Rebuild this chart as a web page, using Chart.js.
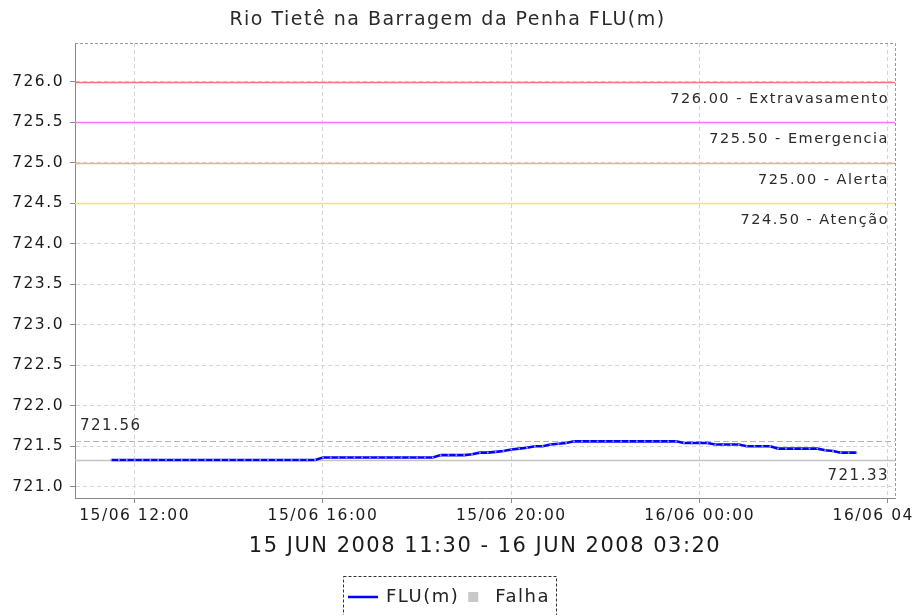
<!DOCTYPE html>
<html>
<head>
<meta charset="utf-8">
<script src="https://cdn.jsdelivr.net/npm/chart.js@4.4.0/dist/chart.umd.min.js"></script>
<style>
    html, body { margin: 0; padding: 0; background: #fff; }
    #wrap { width: 912px; height: 615px; }
</style>
</head>
<body>
<div id="wrap"><canvas id="fluChart"></canvas></div>
<script>
// ____________________________ Data ____________________________\\
// readings every 10 minutes, first one 15/06 11:30 (minutes counted from 15/06 00:00)
const fluStartMinute = 690
const fluStepMinutes = 10
const fluValues = [
    // 11:30 - 15:50
    721.33, 721.33, 721.33, 721.33, 721.33, 721.33, 721.33, 721.33, 721.33,
    721.33, 721.33, 721.33, 721.33, 721.33, 721.33, 721.33, 721.33, 721.33,
    721.33, 721.33, 721.33, 721.33, 721.33, 721.33, 721.33, 721.33, 721.33,
    // 16:00 - 18:20
    721.36, 721.36, 721.36, 721.36, 721.36, 721.36, 721.36, 721.36,
    721.36, 721.36, 721.36, 721.36, 721.36, 721.36, 721.36,
    // 18:30 - 19:00
    721.39, 721.39, 721.39, 721.39,
    // 19:10 - 21:10
    721.40, 721.42, 721.42, 721.43, 721.44, 721.46, 721.47, 721.48,
    721.50, 721.50, 721.52, 721.53, 721.54,
    // 21:20 - 23:30
    721.56, 721.56, 721.56, 721.56, 721.56, 721.56, 721.56,
    721.56, 721.56, 721.56, 721.56, 721.56, 721.56, 721.56,
    // 23:40 - 03:20
    721.54, 721.54, 721.54, 721.54,
    721.52, 721.52, 721.52, 721.52,
    721.50, 721.50, 721.50, 721.50,
    721.47, 721.47, 721.47, 721.47, 721.47, 721.47,
    721.45, 721.44,
    721.42, 721.42, 721.42
]

const xTickMinutes = [720, 960, 1200, 1440, 1680]
const xTickLabels = ["15/06 12:00", "15/06 16:00", "15/06 20:00", "16/06 00:00", "16/06 04:00"]
const yTickValues = [721.0, 721.5, 722.0, 722.5, 723.0, 723.5, 724.0, 724.5, 725.0, 725.5, 726.0]

const thresholdValues = [726.0, 725.5, 725.0, 724.5]
const thresholdNames = ["Extravasamento", "Emergencia", "Alerta", "Atenção"]

const chartTitle = "Rio Tietê na Barragem da Penha FLU(m)"
const periodTitle = "15 JUN 2008 11:30 - 16 JUN 2008 03:20"
// ____________________________ End Data ____________________________\\

const FONT = '"DejaVu Sans", sans-serif'
const thresholdColors = ["#ff7070", "#ff70ff", "#ffb070", "#ffe45c"]

let fluPoints = fluValues.map((value, index) => ({x: fluStartMinute + index * fluStepMinutes, y: value}))
let maxFlu = Math.max(...fluValues)
let minFlu = Math.min(...fluValues)

function horizontalLine(ctx, area, y, color, width, dash){
    ctx.save()
    ctx.strokeStyle = color
    ctx.lineWidth = width
    ctx.setLineDash(dash)
    ctx.beginPath()
    ctx.moveTo(area.left, y)
    ctx.lineTo(area.right, y)
    ctx.stroke()
    ctx.restore()
}

function label(ctx, text, x, y, align, size){
    ctx.save()
    ctx.letterSpacing = "1.5px"
    ctx.font = size + "px " + FONT
    ctx.fillStyle = "#2a2a2a"
    ctx.textAlign = align
    ctx.textBaseline = "middle"
    ctx.fillText(text, x, y)
    ctx.restore()
}

        //_____________ reference lines (thresholds, max & min) _____________\\
const markerPlugin = {
    id: "markers",
    beforeDraw(chart){
        chart.ctx.letterSpacing = "1.5px"   // java-like wide text for ticks & titles
    },
    beforeDatasetsDraw(chart){
        let ctx = chart.ctx
        let area = chart.chartArea
        let yScale = chart.scales.y

        thresholdValues.forEach((value, i) => {
            let y = Math.round(yScale.getPixelForValue(value)) + 0.5
            horizontalLine(ctx, area, y, thresholdColors[i], 1.6, [])
            label(ctx, value.toFixed(2) + " - " + thresholdNames[i], area.right - 6, y + 17, "right", 14.5)
        })

        let yMax = Math.round(yScale.getPixelForValue(maxFlu)) + 0.5
        horizontalLine(ctx, area, yMax, "#b4b4b4", 1, [6, 3])
        label(ctx, maxFlu.toFixed(2), area.left + 5, yMax - 15, "left", 15)

        let yMin = Math.round(yScale.getPixelForValue(minFlu)) + 0.5
        horizontalLine(ctx, area, yMin, "#c4c4c4", 1.5, [])
        label(ctx, minFlu.toFixed(2), area.right - 6, yMin + 16, "right", 15)
    },
    afterDraw(chart){
        let ctx = chart.ctx
        let area = chart.chartArea
        // dashed top / right frame of the plot
        ctx.save()
        ctx.strokeStyle = "#9a9a9a"
        ctx.lineWidth = 1
        ctx.setLineDash([3, 2])
        ctx.beginPath()
        ctx.moveTo(area.left, area.top + 0.5)
        ctx.lineTo(area.right + 0.5, area.top + 0.5)
        ctx.lineTo(area.right + 0.5, area.bottom)
        ctx.stroke()
        ctx.restore()

        // legend box
        ctx.save()
        ctx.letterSpacing = "1.5px"
        ctx.font = "18px " + FONT
        ctx.textBaseline = "middle"
        let datasets = chart.data.datasets
        let y = 597
        let x = 348
        let boxLeft = 343.5
        ctx.lineWidth = 2.5
        ctx.strokeStyle = datasets[0].borderColor
        ctx.beginPath()
        ctx.moveTo(x, y)
        ctx.lineTo(x + 30, y)
        ctx.stroke()
        x += 38
        ctx.fillStyle = "#222"
        ctx.fillText(datasets[0].label, x, y)
        x += ctx.measureText(datasets[0].label).width + 9
        ctx.fillStyle = datasets[1].backgroundColor
        ctx.fillRect(x, y - 5, 10, 10)
        x += 27
        ctx.fillStyle = "#222"
        ctx.fillText(datasets[1].label, x, y)
        x += ctx.measureText(datasets[1].label).width + 6
        ctx.strokeStyle = "#333"
        ctx.lineWidth = 1
        ctx.setLineDash([3, 2])
        ctx.strokeRect(boxLeft, 576.5, Math.round(x) + 0.5 - boxLeft, 45)
        ctx.restore()
    }
}

// ____________________________ Creating the Chart ____________________________\\
let chart = new Chart(document.getElementById("fluChart"), {
    type: "line",
    data: {
        datasets: [{
            label: "FLU(m)",
            data: fluPoints,
            borderColor: "#0000ff",
            borderWidth: 2.6,
            pointStyle: "rect",
            pointRadius: 1.2,
            pointBorderWidth: 0,
            pointBackgroundColor: "#9a9aff",
            tension: 0,
            fill: false
        }, {
            label: "Falha",
            data: [],
            borderColor: "#c8c8c8",
            backgroundColor: "#c8c8c8"
        }]
    },
    options: {
        responsive: true,
        maintainAspectRatio: false,
        animation: false,
        layout: { padding: { left: 0, right: 17, top: 0, bottom: 52 } },
        plugins: {
            legend: { display: false },
            tooltip: { enabled: false },
            title: {
                display: true,
                text: chartTitle,
                color: "#2a2a2a",
                font: { family: FONT, size: 19, weight: "normal" },
                padding: { top: 8.6, bottom: 11.6 }
            }
        },
        scales: {
            x: {
                type: "linear",
                min: 644,
                max: 1689,
                afterBuildTicks: scale => { scale.ticks = xTickMinutes.map(v => ({value: v})) },
                afterFit: scale => {
                    scale.height = 65
                    scale.paddingLeft = 0
                    scale.paddingRight = 0
                },
                ticks: {
                    autoSkip: false,
                    maxRotation: 0,
                    padding: 4,
                    color: "#1a1a1a",
                    font: { family: FONT, size: 15.5 },
                    callback: (value, index) => xTickLabels[index]
                },
                grid: { color: "#d4d4d4", lineWidth: 1, tickLength: 5, tickColor: "#888" },
                border: { display: true, color: "#888", width: 1, dash: [4, 3] },
                title: {
                    display: true,
                    text: periodTitle,
                    color: "#1a1a1a",
                    font: { family: FONT, size: 21 },
                    padding: { top: 0, bottom: 3.5 }
                }
            },
            y: {
                min: 720.86,
                max: 726.48,
                afterBuildTicks: scale => { scale.ticks = yTickValues.map(v => ({value: v})) },
                afterFit: scale => {
                    scale.width = 75
                    scale.paddingTop = 0
                    scale.paddingBottom = 0
                },
                ticks: {
                    padding: 6,
                    color: "#1a1a1a",
                    font: { family: FONT, size: 15.5 },
                    callback: value => Number(value).toFixed(1)
                },
                grid: { color: "#d4d4d4", lineWidth: 1, tickLength: 5, tickColor: "#888" },
                border: { display: true, color: "#888", width: 1, dash: [4, 3] }
            }
        }
    },
    plugins: [markerPlugin]
})
</script>
</body>
</html>
